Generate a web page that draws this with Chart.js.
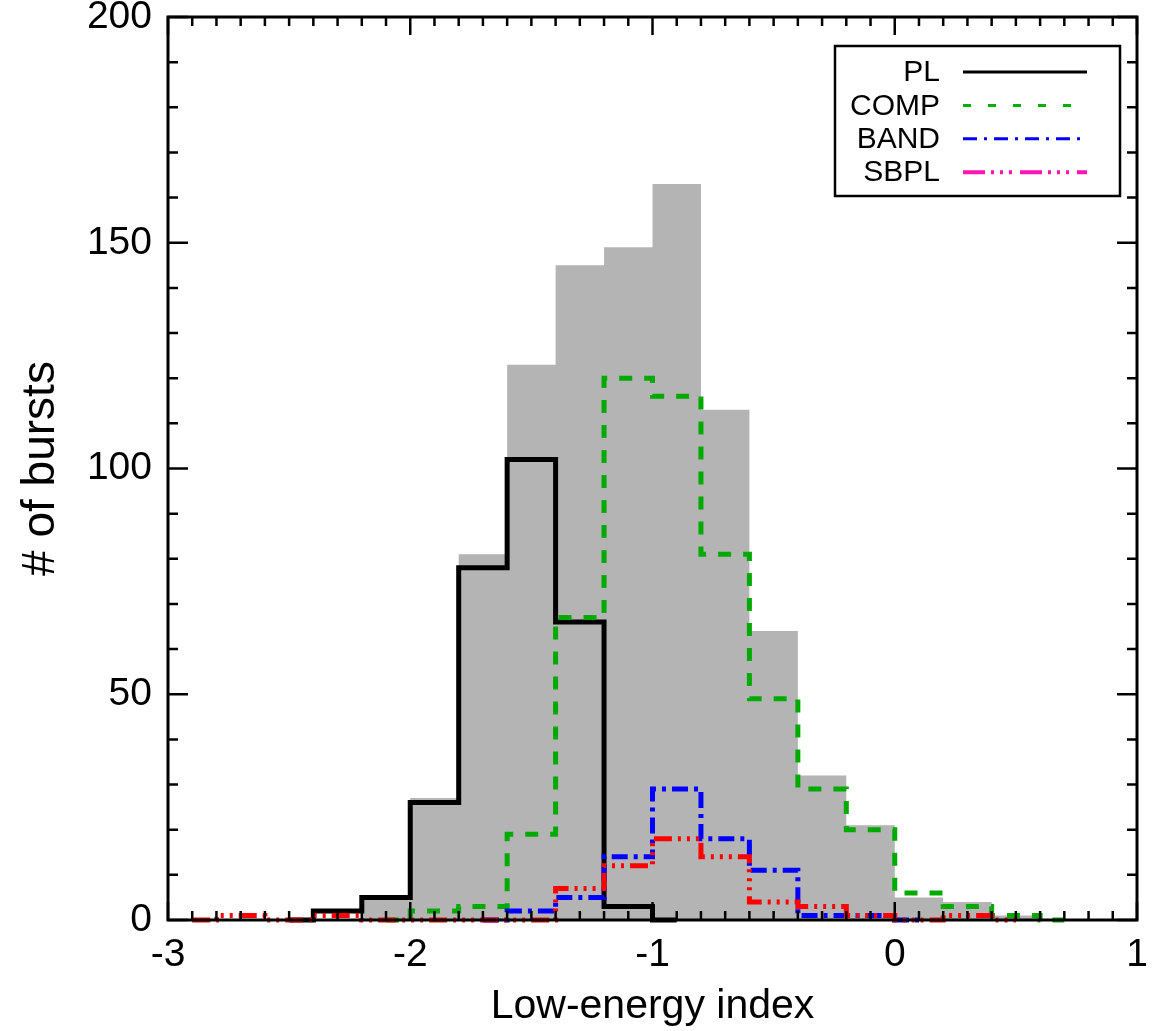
<!DOCTYPE html>
<html>
<head>
<meta charset="utf-8">
<script src="https://cdn.jsdelivr.net/npm/chart.js@4.4.1/dist/chart.umd.min.js"></script>
<style>
  html, body { margin: 0; padding: 0; background: #fff; }
</style>
</head>
<body>
<canvas id="hist" width="1168" height="1031"></canvas>
<script>
// centres of the 0.2-wide bins
const binCenters = [-2.9, -2.7, -2.5, -2.3, -2.1, -1.9, -1.7, -1.5, -1.3, -1.1, -0.9, -0.7, -0.5, -0.3, -0.1, 0.1, 0.3, 0.5, 0.7];
// grey filled histogram (all bursts)
const allBursts = [null, null, null, 0, 5, 27, 81, 123, 145, 149, 163, 113, 64, 32, 21, 5, 4, 1, 0];
const plCounts = [null, null, 0, 2, 5, 26, 78, 102, 66, 3, 0, null, null, null, null, null, null, null, null];
const compCounts = [null, null, null, null, 0, 2, 3, 19, 67, 120, 116, 81, 49, 29, 20, 6, 3, 1, 0];
const bandCounts = [null, null, null, null, null, null, 0, 2, 5, 14, 29, 18, 11, 1, 1, 0, null, null, null];
const sbplCounts = [0, 1, 0, 1, 0, 0, 0, 0, 7, 12, 18, 14, 4, 3, 1, 0, 1, 0, null];
const seriesNames = ['PL', 'COMP', 'BAND', 'SBPL'];
const xTicks = [-3, -2, -1, 0, 1];
const yTicks = [0, 50, 100, 150, 200];

const lineStyles = {
  PL:   { color: '#000000', legendColor: '#000000', dash: [], legendDash: [], legendWidth: 3 },
  COMP: { color: '#00aa00', legendColor: '#00b000', dash: [13, 12], legendDash: [8, 17], legendWidth: 3 },
  BAND: { color: '#0000ff', legendColor: '#0000ff', dash: [16, 6, 4, 6], legendDash: [14, 7, 3, 7], legendWidth: 3 },
  SBPL: { color: '#ff0000', legendColor: '#ff14b4', dash: [18, 6, 3, 6, 3, 6, 3, 6], legendDash: [22, 6, 3, 6, 3, 6, 3, 8], legendWidth: 4 }
};
const seriesCounts = { PL: plCounts, COMP: compCounts, BAND: bandCounts, SBPL: sbplCounts };

Chart.defaults.font.family = '"Liberation Sans", Arial, sans-serif';
Chart.defaults.color = '#000';

const toPoints = (arr) => binCenters.map((x, i) => ({ x: x, y: arr[i] }));

const datasets = [{
  label: 'all',
  data: toPoints(allBursts),
  stepped: 'middle',
  fill: 'origin',
  backgroundColor: '#b4b4b4',
  borderColor: 'rgba(0,0,0,0)',
  borderWidth: 0,
  pointRadius: 0,
  order: 10
}];
seriesNames.forEach((name, i) => {
  const st = lineStyles[name];
  datasets.push({
    label: name,
    data: toPoints(seriesCounts[name]),
    stepped: 'middle',
    fill: false,
    borderColor: st.color,
    borderWidth: 5,
    borderDash: st.dash,
    borderCapStyle: 'butt',
    borderJoinStyle: 'miter',
    pointRadius: 0,
    clip: false,
    order: 5 - i
  });
});

// inward ticks on all four sides plus the frame
const frameTicks = {
  id: 'frameTicks',
  afterDatasetsDraw(chart) {
    const { ctx, chartArea: a, scales: { x, y } } = chart;
    ctx.save();
    ctx.strokeStyle = '#000';
    ctx.lineWidth = 2.5;
    ctx.beginPath();
    for (let i = xTicks[0] * 10; i <= xTicks[xTicks.length - 1] * 10; i++) {
      const px = x.getPixelForValue(i / 10);
      const len = i % 10 === 0 ? 18 : 9;
      ctx.moveTo(px, a.bottom); ctx.lineTo(px, a.bottom - len);
      ctx.moveTo(px, a.top); ctx.lineTo(px, a.top + len);
    }
    for (let v = yTicks[0]; v <= yTicks[yTicks.length - 1]; v += 10) {
      const py = y.getPixelForValue(v);
      const len = v % 50 === 0 ? 20 : 10;
      ctx.moveTo(a.left, py); ctx.lineTo(a.left + len, py);
      ctx.moveTo(a.right, py); ctx.lineTo(a.right - len, py);
    }
    ctx.stroke();
    ctx.lineWidth = 3;
    ctx.strokeRect(a.left, a.top, a.right - a.left, a.bottom - a.top);
    ctx.restore();
  }
};

// IDL style legend: label on the left, line sample on the right
const legendBox = {
  id: 'legendBox',
  afterDraw(chart) {
    const { ctx, chartArea: a } = chart;
    const left = a.right - 302, top = a.top + 29;
    ctx.save();
    ctx.strokeStyle = '#000';
    ctx.lineWidth = 2.5;
    ctx.strokeRect(left, top, 285, 150);
    ctx.font = '30px "Liberation Sans", Arial, sans-serif';
    ctx.textAlign = 'right';
    ctx.textBaseline = 'middle';
    seriesNames.forEach((name, i) => {
      const st = lineStyles[name];
      const rowY = top + 26 + i * 33.4;
      ctx.fillStyle = '#000';
      ctx.fillText(name, left + 105, rowY + 1);
      ctx.beginPath();
      ctx.setLineDash(st.legendDash);
      ctx.lineWidth = st.legendWidth;
      ctx.strokeStyle = st.legendColor;
      ctx.moveTo(left + 128, rowY);
      ctx.lineTo(left + 252, rowY);
      ctx.stroke();
    });
    ctx.restore();
  }
};

new Chart(document.getElementById('hist'), {
  type: 'line',
  data: { datasets: datasets },
  options: {
    responsive: false,
    animation: false,
    events: [],
    layout: { padding: { left: 0, top: 17, right: 31, bottom: 0 } },
    plugins: {
      legend: { display: false },
      tooltip: { enabled: false }
    },
    scales: {
      x: {
        type: 'linear',
        min: -3,
        max: 1,
        offset: false,
        grid: { display: false, drawTicks: false },
        border: { display: false },
        afterBuildTicks: (s) => { s.ticks = xTicks.map(v => ({ value: v })); },
        afterFit: (s) => { s.height = 111; s.paddingLeft = 0; s.paddingRight = 0; },
        ticks: { font: { size: 39 }, padding: 12, maxRotation: 0 },
        title: { display: true, text: 'Low-energy index', font: { size: 41, lineHeight: 1 }, padding: { top: 0, bottom: 4 } }
      },
      y: {
        min: 0,
        max: 200,
        grid: { display: false, drawTicks: false },
        border: { display: false },
        afterBuildTicks: (s) => { s.ticks = yTicks.map(v => ({ value: v })); },
        afterFit: (s) => { s.width = 168; s.paddingTop = 0; s.paddingBottom = 0; },
        ticks: { font: { size: 39 }, padding: 16 },
        title: { display: true, text: '# of bursts', font: { size: 46, lineHeight: 1 }, padding: { top: 18, bottom: 0 } }
      }
    }
  },
  plugins: [frameTicks, legendBox]
});
</script>
</body>
</html>
